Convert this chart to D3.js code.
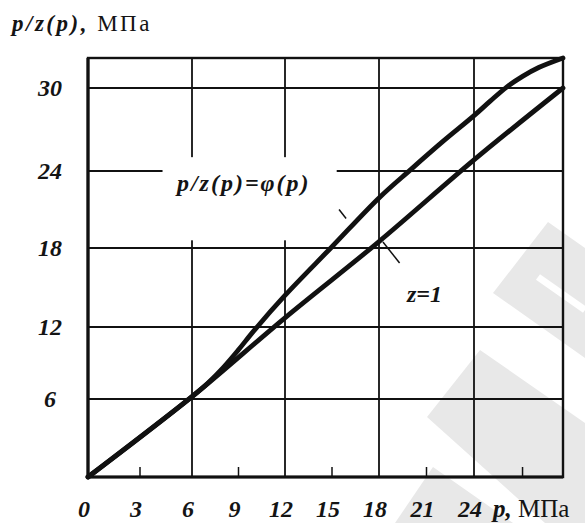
<!DOCTYPE html>
<html>
<head>
<meta charset="utf-8">
<script src="https://cdn.jsdelivr.net/npm/d3@7"></script>
<style>
  body { margin: 0; background: #fff; }
  svg { display: block; }
  text { fill: #141414; font-family: "Liberation Serif", "DejaVu Serif", serif; }
</style>
</head>
<body>
<svg id="chart" width="585" height="523"></svg>
<script>
// ---- data ---------------------------------------------------------------
const pTickLabels = [0, 3, 6, 9, 12, 15, 18, 21, 24];
const pGridLines = [6, 12, 18, 24];
const pMinorTicks = [3, 9, 15, 21, 27];
const ratioTicks = [6, 12, 18, 24, 30];

// p/z(p) = φ(p) for a real gas
const phiP = [0, 6, 7, 8, 9, 10, 12, 15, 18, 20, 22, 24, 25, 26, 27, 28, 29.5];
const phiV = [0, 6.2, 7.3, 8.6, 10.1, 11.7, 14.4, 18.1, 21.9, 24.1, 26.1, 28.0, 29.05, 30.05, 30.85, 31.5, 32.2];

// ideal gas, z = 1
const idealP = [0, 6, 12, 18, 24, 29.5];
const idealV = [0, 6.2, 12.7, 18.5, 24.8, 30];

const pMax = 29.5, vMax = 32.2;

// ---- scales (the grid of the sheet is hand-ruled, so piecewise) -----------
const x = d3.scaleLinear()
  .domain([0, 6, 12, 18, 24, pMax])
  .range([88, 192, 285, 379, 474, 563]);
const y = d3.scaleLinear()
  .domain([0, 6, 12, 18, 24, 30, vMax])
  .range([477, 399, 327, 248, 171, 88, 58]);

const svg = d3.select("#chart");
const ink = "#111";

// faint watermark stripes in the lower right corner
const wm = svg.append("g").attr("fill", "#e8e8e8");
[
  [[493, 293], [548, 222], [585, 248], [585, 358]],
  [[427, 417], [480, 350], [585, 423], [585, 523], [545, 523]],
  [[395, 523], [433, 467], [513, 523]]
].forEach(pts => wm.append("polygon").attr("points", pts.map(p => p.join(",")).join(" ")));
svg.append("line").attr("x1", 538).attr("y1", 277).attr("x2", 585).attr("y2", 310)
  .attr("stroke", "#fff").attr("stroke-width", 7);

// ---- grid -----------------------------------------------------------------
const grid = svg.append("g").attr("stroke", ink).attr("stroke-width", 1.8);
grid.selectAll("line.v").data(pGridLines).join("line")
  .attr("x1", d => x(d)).attr("x2", d => x(d))
  .attr("y1", y(0)).attr("y2", y(vMax));
grid.selectAll("line.h").data(ratioTicks).join("line")
  .attr("x1", x(0)).attr("x2", x(pMax))
  .attr("y1", d => y(d)).attr("y2", d => y(d));

// minor ticks along the p axis
grid.selectAll("line.m").data(pMinorTicks).join("line")
  .attr("x1", d => x(d)).attr("x2", d => x(d))
  .attr("y1", y(0)).attr("y2", y(0) - 10)
  .attr("stroke-width", 1.5);

// frame
svg.append("rect")
  .attr("x", x(0)).attr("y", y(vMax))
  .attr("width", x(pMax) - x(0)).attr("height", y(0) - y(vMax))
  .attr("fill", "none").attr("stroke", ink).attr("stroke-width", 2.4);
svg.append("path")
  .attr("d", `M${x(0)},${y(vMax)}V${y(0)}H${x(pMax)}`)
  .attr("fill", "none").attr("stroke", ink).attr("stroke-width", 3.2);

// clear space behind the curve label
svg.append("rect")
  .attr("x", x(4.3)).attr("y", y(25.0))
  .attr("width", x(15.3) - x(4.3)).attr("height", y(18.6) - y(25.0))
  .attr("fill", "#fff");

// ---- curves ---------------------------------------------------------------
const line = d3.line()
  .x(d => x(d[0])).y(d => y(d[1]))
  .curve(d3.curveCatmullRom.alpha(0.5));

svg.append("path")
  .datum(d3.zip(idealP, idealV))
  .attr("d", line)
  .attr("fill", "none").attr("stroke", ink).attr("stroke-width", 4.8)
  .attr("stroke-linecap", "round");

svg.append("path")
  .datum(d3.zip(phiP, phiV))
  .attr("d", line)
  .attr("fill", "none").attr("stroke", ink).attr("stroke-width", 4.8)
  .attr("stroke-linecap", "round");

// leader strokes from the labels to the curves
const leaders = [
  [[15.45, 21.0], [15.9, 20.3]],
  [[18.25, 18.47], [19.3, 16.86]]
];
svg.selectAll("line.leader").data(leaders).join("line")
  .attr("x1", d => x(d[0][0])).attr("y1", d => y(d[0][1]))
  .attr("x2", d => x(d[1][0])).attr("y2", d => y(d[1][1]))
  .attr("stroke", ink).attr("stroke-width", 1.5);

// ---- text -----------------------------------------------------------------
// p axis tick labels
svg.append("g").selectAll("text").data(pTickLabels).join("text")
  .attr("x", d => x(d) - 4).attr("y", 517)
  .attr("text-anchor", "middle")
  .style("font-style", "italic").style("font-weight", "bold").style("font-size", "24px")
  .text(d => d);

// p/z axis tick labels
svg.append("g").selectAll("text").data(ratioTicks).join("text")
  .attr("x", 50).attr("y", d => y(d) + 8)
  .attr("text-anchor", "middle")
  .style("font-style", "italic").style("font-weight", "bold").style("font-size", "24px")
  .text(d => d);

// axis titles
const yTitle = svg.append("text")
  .attr("x", 12).attr("y", 31)
  .style("font-size", "23px").style("letter-spacing", "2.5px");
yTitle.append("tspan").style("font-style", "italic").style("font-weight", "bold").text("p/z(p),");
yTitle.append("tspan").text(" МПа");

const xTitle = svg.append("text")
  .attr("x", 493).attr("y", 517)
  .style("font-size", "25px");
xTitle.append("tspan").style("font-style", "italic").style("font-weight", "bold").text("p,");
xTitle.append("tspan").text(" МПа");

// curve labels
svg.append("text")
  .attr("x", x(5.13)).attr("y", 191)
  .style("font-style", "italic").style("font-weight", "bold").style("font-size", "24px")
  .style("letter-spacing", "2px")
  .text("p/z(p)=φ(p)");

svg.append("text")
  .attr("x", x(19.77)).attr("y", 302)
  .style("font-style", "italic").style("font-weight", "bold").style("font-size", "24px")
  .text("z=1");
</script>
</body>
</html>
